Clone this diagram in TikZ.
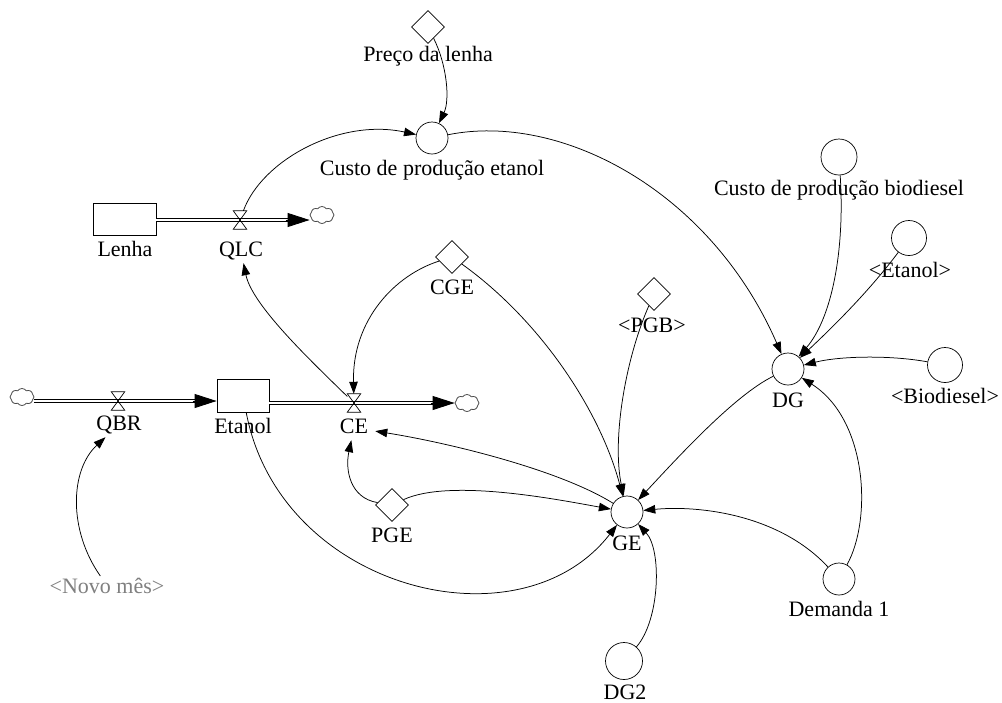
\documentclass[tikz,border=0pt]{standalone}
\usepackage{fontspec}
\setmainfont{Liberation Serif}
\usetikzlibrary{arrows.meta,shapes.geometric,shapes.symbols,calc}

% hourglass symbol of a flow valve, drawn over its (invisible) box node
\newcommand\valveglyph[1]{%
  \draw[line width=0.7pt] (#1.north west) -- (#1.north east) -- (#1.south west) -- (#1.south east) -- cycle;}

\begin{document}
\begin{tikzpicture}[x=1pt,y=-1pt,
  lbl/.style={font=\fontsize{22}{26}\selectfont, inner sep=1.5pt, anchor=base},
  flowlbl/.style={lbl, inner xsep=7pt, inner ysep=3pt, text depth=4pt},
  aux/.style={circle, draw, line width=0.7pt, minimum size=32pt, inner sep=0},
  const/.style={diamond, draw, line width=0.7pt, minimum width=33pt, minimum height=33pt, inner sep=0},
  stock/.style={rectangle, draw, line width=0.8pt, minimum width=63pt, minimum height=32pt, inner sep=0},
  valvebox/.style={rectangle, minimum width=13pt, minimum height=18pt, inner sep=0},
  sink/.style={cloud, cloud puffs=8, cloud puff arc=110, aspect=1.4, draw=black!70, line width=0.8pt,
               minimum width=24pt, minimum height=17pt, inner sep=0},
  pipe/.style={line width=0.8pt, double=white, double distance=2.2pt},
  pipetip/.style={-{Triangle[length=22pt,width=14pt]}, line width=0.8pt},
  conn/.style={-{Triangle[length=12pt,width=8.5pt]}, line width=0.75pt},
]
\fill[white] (0,0) rectangle (1002,702);
\useasboundingbox (0,0) rectangle (1002,702);

% ---- variables ----
\node[const] (preco) at (428,27) {};
\node[lbl] (precoL) at (428,61) {Preço da lenha};
\node[aux] (custoE) at (432,138) {};
\node[lbl] (custoEL) at (432,175) {Custo de produção etanol};

\node[aux, minimum size=36pt] (custoB) at (839,157) {};
\node[lbl] (custoBL) at (839,195) {Custo de produção biodiesel};
\node[aux, minimum size=35pt] (etanolS) at (909,238) {};
\node[lbl] (etanolSL) at (910,277) {\textless Etanol\textgreater};
\node[aux, minimum size=35pt] (bio) at (945,365) {};
\node[lbl] (bioL) at (945,403) {\textless Biodiesel\textgreater};
\node[aux] (dg) at (788,369) {};
\node[lbl] (dgL) at (788,407) {DG};

\node[const] (cge) at (452,257) {};
\node[lbl] (cgeL) at (452,294) {CGE};
\node[const] (pgb) at (654,294) {};
\node[lbl] (pgbL) at (652,332) {\textless PGB\textgreater};
\node[const] (pge) at (392,505) {};
\node[lbl] (pgeL) at (392,542) {PGE};
\node[aux] (ge) at (627,512) {};
\node[lbl] (geL) at (627,550) {GE};
\node[aux] (dem) at (839,579) {};
\node[lbl] (demL) at (839,616) {Demanda 1};
\node[aux, minimum size=37pt] (dg2) at (624,661) {};
\node[lbl] (dg2L) at (625,699) {DG2};
\node[lbl, text=black!50] (novo) at (107,593) {\textless Novo mês\textgreater};

% ---- stocks, valves and clouds ----
\node[stock] (lenha) at (124.5,219) {};
\node[lbl] (lenhaL) at (125,256) {Lenha};
\node[valvebox] (qlc) at (240,220) {};
\node[flowlbl] (qlcL) at (241,256) {QLC};
\node[sink] (sink1) at (322,215) {};

\node[sink] (sink0) at (22,397) {};
\node[valvebox] (qbr) at (118,401) {};
\node[flowlbl] (qbrL) at (119,430) {QBR};
\node[stock, minimum width=52pt, minimum height=33pt] (etanol) at (243,395.5) {};
\node[lbl] (etanolL) at (243,433) {Etanol};
\node[valvebox] (ce) at (354,403) {};
\node[flowlbl] (ceL) at (354,433) {CE};
\node[sink] (sink2) at (467,403) {};

% ---- material flows ----
\draw[pipe] (lenha.east |- qlc.center) -- ($(sink1.west |- qlc.center)+(-20,0)$);
\draw[pipetip] ($(sink1.west |- qlc.center)+(-24,0)$) -- (sink1.west |- qlc.center);
\draw[pipe] (sink0.east |- qbr.center) -- ($(etanol.west |- qbr.center)+(-20,0)$);
\draw[pipetip] ($(etanol.west |- qbr.center)+(-24,0)$) -- (etanol.west |- qbr.center);
\draw[pipe] (etanol.east |- ce.center) -- ($(sink2.west |- ce.center)+(-20,0)$);
\draw[pipetip] ($(sink2.west |- ce.center)+(-24,0)$) -- (sink2.west |- ce.center);
\valveglyph{qlc}
\valveglyph{qbr}
\valveglyph{ce}

% ---- information links ----
\draw[conn] (preco) .. controls (447,65) and (450,100) .. (custoE);
\draw[conn] (qlc) .. controls (262,160) and (340,118) .. (custoE);
\draw[conn] (custoE) .. controls (560,112) and (710,190) .. (dg);
\draw[conn] (custoB) .. controls (845,250) and (832,318) .. (dg);
\draw[conn] (etanolS) .. controls (870,290) and (835,325) .. (dg);
\draw[conn] (bio) .. controls (890,355) and (840,356) .. (dg);
\draw[conn] (dem) .. controls (872,520) and (868,420) .. (dg);
\draw[conn] (ce) .. controls (310,360) and (252,305) .. (qlcL);
\draw[conn] (cge) .. controls (395,275) and (352,320) .. (ce);
\draw[conn] (cge) .. controls (540,320) and (600,410) .. (ge);
\draw[conn] (pgb) .. controls (625,360) and (612,440) .. (ge);
\draw[conn] (dg) .. controls (735,395) and (680,455) .. (ge);
\draw[conn] (ge) .. controls (560,470) and (450,443) .. (ceL);
\draw[conn] (pge) .. controls (350,498) and (345,470) .. (ceL);
\draw[conn] (pge) .. controls (450,478) and (560,500) .. (ge);
\draw[conn] (etanol) .. controls (280,590) and (520,650) .. (ge);
\draw[conn] (dem) .. controls (780,515) and (700,505) .. (ge);
\draw[conn] (dg2) .. controls (660,620) and (662,550) .. (ge);
\draw[conn] (novo) .. controls (68,530) and (70,470) .. (qbrL);
\end{tikzpicture}
\end{document}
